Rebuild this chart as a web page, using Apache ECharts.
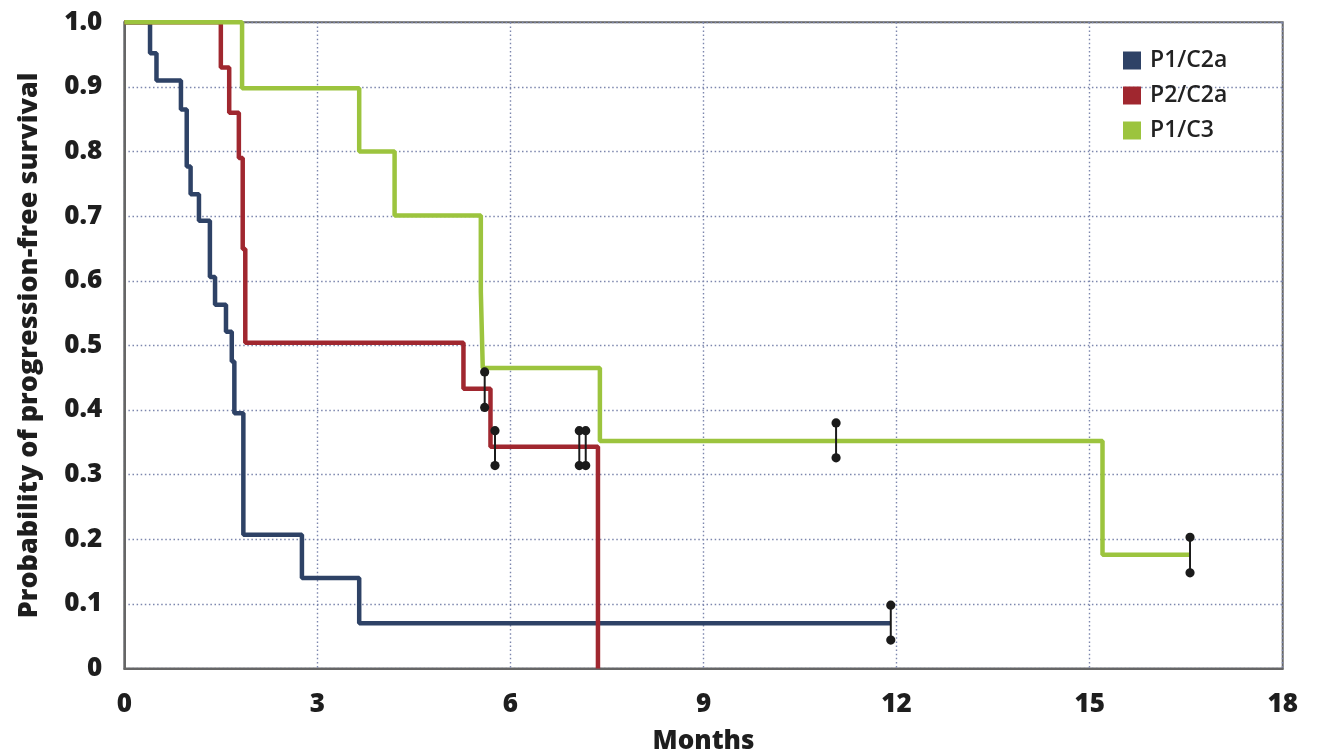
<!DOCTYPE html>
<html>
<head>
<meta charset="utf-8">
<script src="https://cdn.jsdelivr.net/npm/echarts@6/dist/echarts.min.js"></script>
<style>
html,body{margin:0;padding:0;background:#fff;}
#chart{width:1327px;height:752px;}
</style>
</head>
<body>
<div id="chart"></div>
<script>
// Kaplan-Meier step data (months, probability after event)
const seriesNames = ['P1/C2a', 'P2/C2a', 'P1/C3'];
const blueT = [0, 0.40, 0.50, 0.88, 0.97, 1.03, 1.16, 1.33, 1.41, 1.58, 1.67, 1.71, 1.85, 2.76, 3.65, 11.91];
const blueS = [1, 0.952, 0.910, 0.865, 0.777, 0.734, 0.693, 0.606, 0.563, 0.521, 0.475, 0.395, 0.207, 0.140, 0.070, 0.070];
const redT = [0, 1.50, 1.63, 1.78, 1.84, 1.88, 5.27, 5.69, 7.36];
const redS = [1, 0.930, 0.860, 0.790, 0.649, 0.504, 0.433, 0.343, 0];
const greenT = [0, 1.83, 3.65, 4.20, 5.54, 5.57, 7.39, 15.20, 16.56];
const greenS = [1, 0.898, 0.800, 0.701, 0.583, 0.465, 0.352, 0.176, 0.176];
// censor marks (x, low end, high end)
const censorT = [5.60, 5.76, 7.07, 7.17, 11.06, 11.91, 16.56];
const censorLow = [0.404, 0.314, 0.314, 0.314, 0.326, 0.044, 0.148];
const censorHigh = [0.459, 0.368, 0.368, 0.368, 0.380, 0.098, 0.203];
const xTicks = [0, 3, 6, 9, 12, 15, 18];
const yTickLabels = ['0', '0.1', '0.2', '0.3', '0.4', '0.5', '0.6', '0.7', '0.8', '0.9', '1.0'];

const colors = ['#2e4266', '#a0272f', '#9cc43e'];
const zip = (t, s) => t.map((v, i) => [v, s[i]]);
const FONT = '"Open Sans", Lato, sans-serif';

const chart = echarts.init(document.getElementById('chart'), null, {renderer: 'canvas'});
const gridLine = {show: true, lineStyle: {color: '#7c86ad', width: 1.4, type: [1.5, 2.6]}};
const heavy = {fontFamily: FONT, fontSize: 26, fontWeight: 800, color: '#1e1e1e'};

chart.setOption({
  backgroundColor: '#fff',
  animation: false,
  grid: {left: 124.3, right: 44.3, top: 22.3, bottom: 83.5, containLabel: false, outerBoundsMode: 'none',
    show: true, borderColor: '#666', borderWidth: 2, backgroundColor: 'transparent'},
  legend: {
    orient: 'vertical', left: 1123, top: 49, padding: 0, itemWidth: 18, itemHeight: 18, itemGap: 12,
    icon: 'rect',
    data: seriesNames,
    textStyle: {fontFamily: FONT, fontSize: 23, fontWeight: 600, color: '#222', padding: [0, 0, 0, 4]}
  },
  xAxis: {
    type: 'value', min: xTicks[0], max: xTicks[xTicks.length - 1], interval: 3,
    name: 'Months', nameLocation: 'middle', nameGap: 60,
    nameTextStyle: heavy,
    axisLine: {show: true, lineStyle: {color: '#666', width: 2}},
    axisTick: {show: false},
    axisLabel: Object.assign({}, heavy, {margin: 23}),
    splitLine: gridLine
  },
  yAxis: {
    type: 'value', min: 0, max: 1, interval: 0.1,
    name: 'Probability of progression-free survival', nameLocation: 'middle', nameGap: 81,
    nameTextStyle: Object.assign({}, heavy, {fontSize: 27}),
    axisLine: {show: true, lineStyle: {color: '#666', width: 2}},
    axisTick: {show: false},
    axisLabel: Object.assign({}, heavy, {margin: 22,
      formatter: v => yTickLabels[Math.round(v * 10)]}),
    splitLine: gridLine
  },
  series: [
    {name: seriesNames[0], type: 'line', step: 'end', data: zip(blueT, blueS), showSymbol: false, clip: false, z: 3,
      itemStyle: {color: colors[0]}, lineStyle: {color: colors[0], width: 4.5}},
    {name: seriesNames[1], type: 'line', step: 'end', data: zip(redT, redS), showSymbol: false, clip: false, z: 4,
      itemStyle: {color: colors[1]}, lineStyle: {color: colors[1], width: 4.5}},
    {name: seriesNames[2], type: 'line', step: 'end', data: zip(greenT, greenS), showSymbol: false, clip: false, z: 5,
      itemStyle: {color: colors[2]}, lineStyle: {color: colors[2], width: 4.5}},
    {name: 'censor', type: 'custom', z: 10, silent: true,
      data: censorT.map((t, i) => [t, censorLow[i], censorHigh[i]]),
      renderItem: function (params, api) {
        const p1 = api.coord([api.value(0), api.value(1)]);
        const p2 = api.coord([api.value(0), api.value(2)]);
        const c = '#1b1b1b';
        return {type: 'group', children: [
          {type: 'line', shape: {x1: p1[0], y1: p1[1], x2: p2[0], y2: p2[1]}, style: {stroke: c, lineWidth: 2}},
          {type: 'circle', shape: {cx: p1[0], cy: p1[1], r: 4.6}, style: {fill: c}},
          {type: 'circle', shape: {cx: p2[0], cy: p2[1], r: 4.6}, style: {fill: c}}
        ]};
      }
    }
  ]
});
</script>
</body>
</html>
